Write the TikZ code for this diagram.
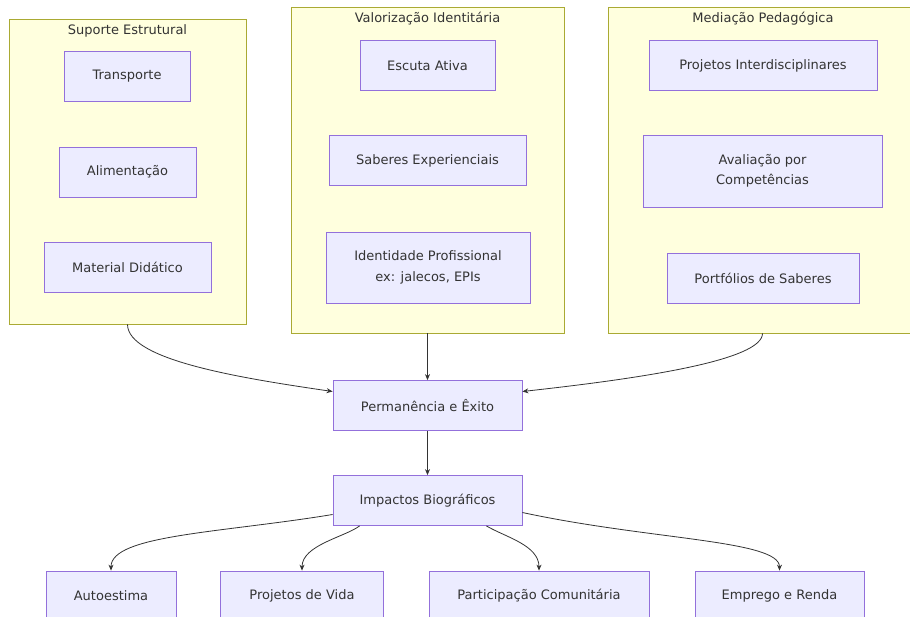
\documentclass[tikz,border=0pt]{standalone}
\usepackage{fontspec}
\setmainfont{DejaVu Sans}
\usetikzlibrary{arrows.meta}
\definecolor{grpfill}{HTML}{FFFFDE}
\definecolor{grpline}{HTML}{AAAA33}
\definecolor{boxfill}{HTML}{ECECFF}
\definecolor{boxline}{HTML}{9370DB}
\definecolor{edgeline}{HTML}{333333}

\begin{document}
\begin{tikzpicture}[
		x=1pt, y=-1pt,
		>={Stealth[length=6pt,width=5pt]},
		line width=0.8pt,
		every node/.style={font=\fontsize{13}{20.5}\selectfont, text=black!80, inner sep=0pt},
		grp/.style={draw=grpline, fill=grpfill},
		box/.style={draw=boxline, fill=boxfill, align=center, minimum height=50pt},
		edge/.style={draw=edgeline, ->}
		]
		
		\useasboundingbox (0,0) rectangle (910,617);
		\clip (0,0) rectangle (910,617);
		
		\node[grp, minimum width=237pt, minimum height=305pt] (sup) at (127.5,171.5) {};
		\node[grp, minimum width=273pt, minimum height=326pt] (val) at (427.5,170) {};
		\node[grp, minimum width=310pt, minimum height=326pt] (med) at (763,170) {};
		
		\node (supT) at (127.5,31) {Suporte Estrutural};
		\node (valT) at (427.5,19) {Valorização Identitária};
		\node (medT) at (763,19) {Mediação Pedagógica};
		
		\node[box, minimum width=126pt] (trans) at (127,76) {Transporte};
		\node[box, minimum width=137pt] (alim) at (127.5,172) {Alimentação};
		\node[box, minimum width=167pt] (mat) at (127.5,267) {Material Didático};
		
		\node[box, minimum width=135pt] (escuta) at (427.5,65.5) {Escuta Ativa};
		\node[box, minimum width=197pt] (saberes) at (427.5,160.5) {Saberes Experienciais};
		\node[box, minimum width=204pt, minimum height=71pt] (ident) at (428,267.5) {Identidade Profissional\\ex: jalecos, EPIs};
		
		\node[box, minimum width=228pt] (proj) at (763,65.5) {Projetos Interdisciplinares};
		\node[box, minimum width=239pt, minimum height=72pt] (aval) at (762.5,171) {Avaliação por\\Competências};
		\node[box, minimum width=192pt] (port) at (763,278) {Portfólios de Saberes};
		
		\node[box, minimum width=189pt] (perm) at (427.5,405.5) {Permanência e Êxito};
		\node[box, minimum width=189pt] (imp) at (427.5,500.5) {Impactos Biográficos};
		
		\node[box, minimum width=130pt] (auto) at (111,596) {Autoestima};
		\node[box, minimum width=163pt] (vida) at (302,596) {Projetos de Vida};
		\node[box, minimum width=220pt] (part) at (539,596) {Participação Comunitária};
		\node[box, minimum width=169pt] (emp) at (779.5,596) {Emprego e Renda};
		
		\draw[edge] (sup.south) .. controls (127.5,360) and (240,378) .. ([yshift=14pt]perm.west);
		\draw[edge] (val.south) -- (perm.north);
		\draw[edge] ([xshift=-0.5pt]med.south) .. controls (762.5,360) and (645,378) .. ([yshift=14pt]perm.east);
		\draw[edge] (perm.south) -- (imp.north);
		
		\draw[edge] ([yshift=-14pt]imp.west) .. controls (220,533) and (111,535) .. (auto.north);
		\draw[edge] ([xshift=27pt]imp.south west) .. controls (345,537) and (302,545) .. (vida.north);
		\draw[edge] ([xshift=-36pt]imp.south east) .. controls (505,537) and (539,545) .. (part.north);
		\draw[edge] ([yshift=-12pt]imp.east) .. controls (650,540) and (779.5,540) .. (emp.north);
		
	\end{tikzpicture}
\end{document}
